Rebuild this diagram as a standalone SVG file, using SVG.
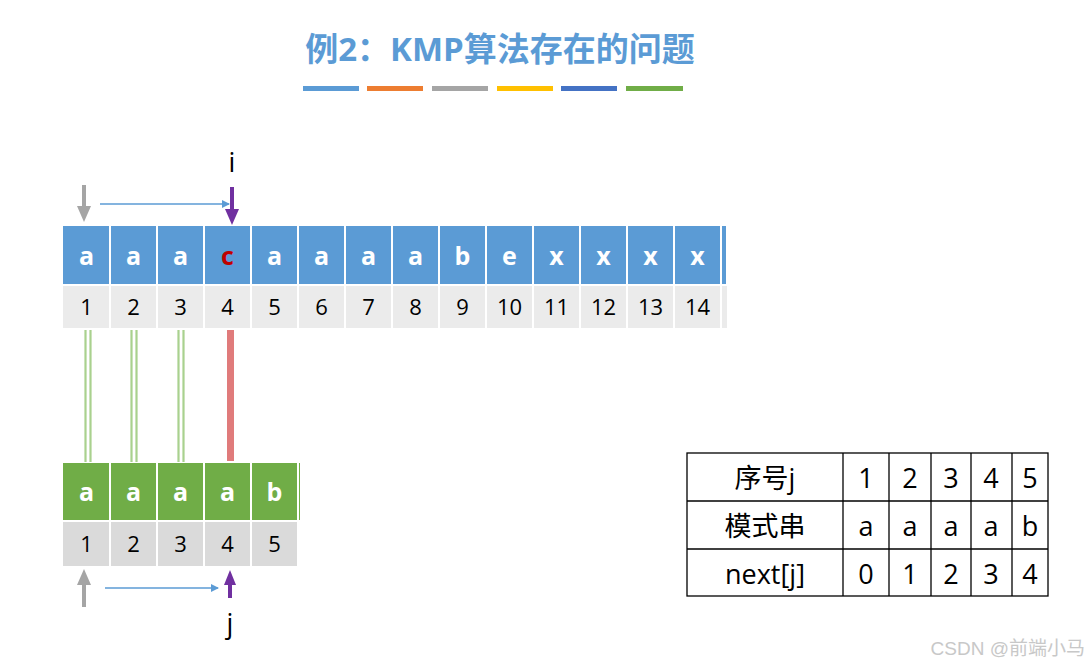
<svg xmlns="http://www.w3.org/2000/svg" width="1092" height="665" viewBox="0 0 1092 665">
<defs>
<style>
.title{font-family:"Open Sans","Noto Sans CJK SC",sans-serif;font-weight:bold;font-size:33px;fill:#5b9bd5}
.ch{font-family:"Open Sans","Liberation Sans",sans-serif;font-weight:bold;font-size:25px;fill:#fff;text-anchor:middle}
.num{font-family:"Open Sans","Liberation Sans",sans-serif;font-size:22px;fill:#000;text-anchor:middle}
.lbl{font-family:"Open Sans","Liberation Sans",sans-serif;font-size:27px;fill:#000;text-anchor:middle}
.tb{font-family:"Open Sans","Noto Sans CJK SC",sans-serif;font-size:27px;fill:#000;text-anchor:middle}
.sep{stroke:#fff;stroke-width:2}
.grid{stroke:#000;stroke-width:1.3;fill:none}
</style>
<marker id="bh" markerWidth="8" markerHeight="8" refX="7" refY="4" orient="auto" markerUnits="userSpaceOnUse"><path d="M0,0 L8,4 L0,8 Z" fill="#5b9bd5"/></marker>
</defs>
<rect width="1092" height="665" fill="#fff"/>
<g id="title">
<text class="title" x="500" y="61" text-anchor="middle">例2：KMP算法存在的问题</text>
<rect x="303" y="86" width="56" height="5" fill="#5b9bd5"/>
<rect x="367" y="86" width="56" height="5" fill="#ed7d31"/>
<rect x="432" y="86" width="56" height="5" fill="#a5a5a5"/>
<rect x="497" y="86" width="56" height="5" fill="#ffc000"/>
<rect x="561" y="86" width="56" height="5" fill="#4472c4"/>
<rect x="626" y="86" width="57" height="5" fill="#70ad47"/>
</g>
<g id="main-string">
<rect x="63" y="226" width="663" height="58" fill="#5b9bd5"/>
<rect x="63" y="286" width="664" height="42" fill="#ebebeb"/>
<g class="sep">
<line x1="110" y1="226" x2="110" y2="328"/><line x1="157" y1="226" x2="157" y2="328"/><line x1="204" y1="226" x2="204" y2="328"/><line x1="251" y1="226" x2="251" y2="328"/><line x1="298" y1="226" x2="298" y2="328"/><line x1="345" y1="226" x2="345" y2="328"/><line x1="392" y1="226" x2="392" y2="328"/><line x1="439" y1="226" x2="439" y2="328"/><line x1="486" y1="226" x2="486" y2="328"/><line x1="533" y1="226" x2="533" y2="328"/><line x1="580" y1="226" x2="580" y2="328"/><line x1="627" y1="226" x2="627" y2="328"/><line x1="674" y1="226" x2="674" y2="328"/><line x1="721" y1="226" x2="721" y2="328"/>
<line x1="63" y1="285" x2="727" y2="285"/>
</g>
<text class="ch" x="86.5" y="265">a</text><text class="ch" x="133.5" y="265">a</text><text class="ch" x="180.5" y="265">a</text><text class="ch" x="227.5" y="265" style="fill:#c00000">c</text><text class="ch" x="274.5" y="265">a</text><text class="ch" x="321.5" y="265">a</text><text class="ch" x="368.5" y="265">a</text><text class="ch" x="415.5" y="265">a</text><text class="ch" x="462.5" y="265">b</text><text class="ch" x="509.5" y="265">e</text><text class="ch" x="556.5" y="265">x</text><text class="ch" x="603.5" y="265">x</text><text class="ch" x="650.5" y="265">x</text><text class="ch" x="697.5" y="265">x</text>
<text class="num" x="86.5" y="315">1</text><text class="num" x="133.5" y="315">2</text><text class="num" x="180.5" y="315">3</text><text class="num" x="227.5" y="315">4</text><text class="num" x="274.5" y="315">5</text><text class="num" x="321.5" y="315">6</text><text class="num" x="368.5" y="315">7</text><text class="num" x="415.5" y="315">8</text><text class="num" x="462.5" y="315">9</text><text class="num" x="509.5" y="315">10</text><text class="num" x="556.5" y="315">11</text><text class="num" x="603.5" y="315">12</text><text class="num" x="650.5" y="315">13</text><text class="num" x="697.5" y="315">14</text>
</g>
<g id="pattern-string">
<rect x="63" y="463" width="237" height="57" fill="#70ad47"/>
<rect x="63" y="522" width="236" height="44" fill="#dadada"/>
<g class="sep">
<line x1="110" y1="463" x2="110" y2="566"/><line x1="157" y1="463" x2="157" y2="566"/><line x1="204" y1="463" x2="204" y2="566"/><line x1="251" y1="463" x2="251" y2="566"/><line x1="298" y1="463" x2="298" y2="566"/>
<line x1="63" y1="521" x2="300" y2="521"/>
</g>
<text class="ch" x="86.5" y="501">a</text><text class="ch" x="133.5" y="501">a</text><text class="ch" x="180.5" y="501">a</text><text class="ch" x="227.5" y="501">a</text><text class="ch" x="274.5" y="501">b</text>
<text class="num" x="86.5" y="552">1</text><text class="num" x="133.5" y="552">2</text><text class="num" x="180.5" y="552">3</text><text class="num" x="227.5" y="552">4</text><text class="num" x="274.5" y="552">5</text>
</g>
<g id="connectors">
<g stroke="#a9d18e" stroke-width="2.2">
<line x1="85.5" y1="330" x2="85.5" y2="462"/><line x1="90.5" y1="330" x2="90.5" y2="462"/>
<line x1="131.5" y1="330" x2="131.5" y2="462"/><line x1="136.5" y1="330" x2="136.5" y2="462"/>
<line x1="178.5" y1="330" x2="178.5" y2="462"/><line x1="183.5" y1="330" x2="183.5" y2="462"/>
</g>
<rect x="227" y="330" width="7" height="131" fill="#e07b7b"/>
<line x1="84" y1="185" x2="84" y2="207" stroke="#a5a5a5" stroke-width="4"/>
<path d="M77,206 L91,206 L84,222 Z" fill="#a5a5a5"/>
<line x1="232" y1="187" x2="232" y2="210" stroke="#7030a0" stroke-width="4"/>
<path d="M225,209 L239,209 L232,225 Z" fill="#7030a0"/>
<line x1="100" y1="204" x2="229" y2="204" stroke="#5b9bd5" stroke-width="1.5" marker-end="url(#bh)"/>
<line x1="84" y1="607" x2="84" y2="584" stroke="#a5a5a5" stroke-width="4"/>
<path d="M77,585 L91,585 L84,569 Z" fill="#a5a5a5"/>
<line x1="230" y1="598" x2="230" y2="584" stroke="#7030a0" stroke-width="4"/>
<path d="M224,585 L236,585 L230,570 Z" fill="#7030a0"/>
<line x1="105" y1="588" x2="218" y2="588" stroke="#5b9bd5" stroke-width="1.5" marker-end="url(#bh)"/>
</g>
<g id="labels">
<text class="lbl" x="232" y="172">i</text>
<text class="lbl" x="230" y="633">j</text>
</g>
<g id="next-table">
<rect class="grid" x="687" y="453" width="361" height="143"/>
<line class="grid" x1="687" y1="501" x2="1048" y2="501"/>
<line class="grid" x1="687" y1="549" x2="1048" y2="549"/>
<line class="grid" x1="843" y1="453" x2="843" y2="596"/>
<line class="grid" x1="889" y1="453" x2="889" y2="596"/>
<line class="grid" x1="931" y1="453" x2="931" y2="596"/>
<line class="grid" x1="971" y1="453" x2="971" y2="596"/>
<line class="grid" x1="1012" y1="453" x2="1012" y2="596"/>
<text class="tb" x="765" y="488">序号j</text>
<text class="tb" x="866" y="488">1</text><text class="tb" x="910" y="488">2</text><text class="tb" x="951" y="488">3</text><text class="tb" x="991" y="488">4</text><text class="tb" x="1030" y="488">5</text>
<text class="tb" x="765" y="536">模式串</text>
<text class="tb" x="866" y="536">a</text><text class="tb" x="910" y="536">a</text><text class="tb" x="951" y="536">a</text><text class="tb" x="991" y="536">a</text><text class="tb" x="1030" y="536">b</text>
<text class="tb" x="765" y="584">next[j]</text>
<text class="tb" x="866" y="584">0</text><text class="tb" x="910" y="584">1</text><text class="tb" x="951" y="584">2</text><text class="tb" x="991" y="584">3</text><text class="tb" x="1030" y="584">4</text>
</g>
<g id="watermark">
<text x="1085" y="655" text-anchor="end" style="font-family:'Liberation Sans','Noto Sans CJK SC',sans-serif;font-size:19px;fill:#c8c8c8">CSDN @前端小马</text>
</g>
</svg>
